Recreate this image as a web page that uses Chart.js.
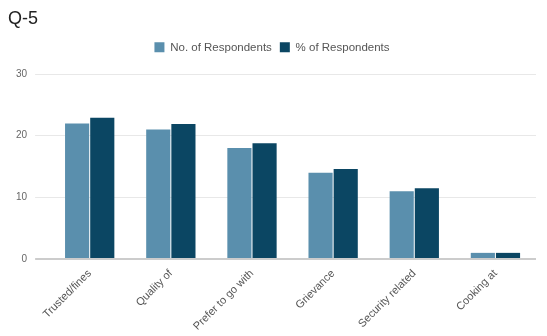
<!DOCTYPE html>
<html>
<head>
<meta charset="utf-8">
<script src="https://cdn.jsdelivr.net/npm/chart.js@4/dist/chart.umd.min.js"></script>
<style>
  html, body { margin: 0; padding: 0; background: #fff; }
  #wrap { width: 547px; height: 336px; position: relative; }
</style>
</head>
<body>
<div id="wrap"><canvas id="c"></canvas></div>
<script>
const categories = ["Trusted/fines", "Quality of", "Prefer to go with", "Grievance", "Security related", "Cooking at"];
const countValues = [22, 21, 18, 14, 11, 1];
const percentValues = [22.9, 21.9, 18.8, 14.6, 11.5, 1.0];
const seriesNames = ["No. of Respondents", "% of Respondents"];
const yTicks = [0, 10, 20, 30];

const FONT = "'Liberation Sans', Arial, sans-serif";

const legendMargin = {
  id: 'legendMargin',
  beforeInit(chart) {
    const origFit = chart.legend.fit;
    chart.legend.fit = function () {
      origFit.bind(chart.legend)();
      this.height += 11;
    };
  }
};

new Chart(document.getElementById('c'), {
  type: 'bar',
  data: {
    labels: categories,
    datasets: [
      { label: seriesNames[0], data: countValues, backgroundColor: '#5a8fad', borderWidth: 0,
        categoryPercentage: 0.62, barPercentage: 0.96 },
      { label: seriesNames[1], data: percentValues, backgroundColor: '#0b4663', borderWidth: 0,
        categoryPercentage: 0.62, barPercentage: 0.96 }
    ]
  },
  plugins: [legendMargin],
  options: {
    responsive: true,
    maintainAspectRatio: false,
    animation: false,
    layout: { padding: { left: 8, right: 11, top: 6, bottom: 3 } },
    plugins: {
      title: {
        display: true, text: 'Q-5', align: 'start', color: '#222',
        font: { family: FONT, size: 18, weight: '500' },
        padding: { top: 2, bottom: 4 }
      },
      legend: {
        display: true, position: 'top',
        labels: { boxWidth: 10, boxHeight: 10, color: '#555', padding: 8,
          font: { family: FONT, size: 11.5 } }
      },
      tooltip: { enabled: false }
    },
    scales: {
      x: {
        grid: { display: false },
        border: { display: false },
        ticks: { color: '#555', font: { family: FONT, size: 11 }, maxRotation: 45, minRotation: 45, padding: 0 }
      },
      y: {
        min: 0, max: 30,
        afterBuildTicks: (s) => { s.ticks = yTicks.map(v => ({ value: v })); },
        border: { display: false },
        grid: {
          drawTicks: true, tickLength: 14,
          color: (ctx) => ctx.tick && ctx.tick.value === 0 ? '#cccccc' : '#e8e8e8',
          lineWidth: (ctx) => ctx.tick && ctx.tick.value === 0 ? 2 : 1
        },
        ticks: { color: '#666', font: { family: FONT, size: 10 }, padding: 8 }
      }
    }
  }
});
</script>
</body>
</html>
